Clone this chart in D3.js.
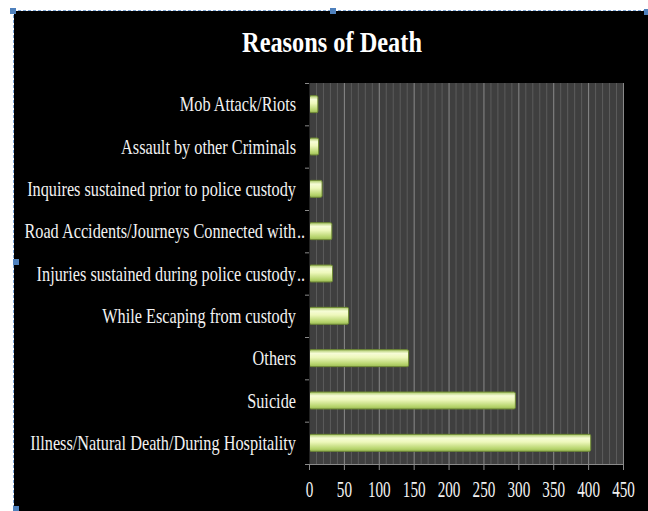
<!DOCTYPE html>
<html>
<head>
<meta charset="utf-8">
<script src="https://cdn.jsdelivr.net/npm/d3@7"></script>
<style>
  html, body { margin: 0; padding: 0; background: #ffffff; }
  svg { display: block; }
</style>
</head>
<body>
<svg id="chart" width="648" height="511"></svg>
<script>
// Causes of death in custody, top to bottom as listed on the chart
const categories = [
  "Mob Attack/Riots",
  "Assault by other Criminals",
  "Inquires sustained prior to police custody",
  "Road Accidents/Journeys Connected with..",
  "Injuries sustained during police custody..",
  "While Escaping from custody",
  "Others",
  "Suicide",
  "Illness/Natural Death/During Hospitality"
];
const values = [12, 13, 18, 32, 33, 56, 142, 295, 403];
const xTicks = [0, 50, 100, 150, 200, 250, 300, 350, 400, 450];
const titleText = "Reasons of Death";

const svg = d3.select("#chart");
const W = 648, H = 511;
const serif = "'Liberation Serif', 'Times New Roman', serif";

// dark panel with selection frame
svg.append("rect").attr("x", 14).attr("y", 11).attr("width", W - 14).attr("height", H - 11).attr("fill", "#000");
svg.append("line").attr("x1", 13).attr("x2", W).attr("y1", 10.5).attr("y2", 10.5)
  .attr("stroke", "#7fa6d6").attr("stroke-width", 1).attr("stroke-dasharray", "3,2");
svg.append("line").attr("x1", 13.5).attr("x2", 13.5).attr("y1", 10).attr("y2", H)
  .attr("stroke", "#7fa6d6").attr("stroke-width", 1).attr("stroke-dasharray", "3,2");
[[10, 8], [330, 8], [644, 9], [13, 259], [13, 506]].forEach(([hx, hy]) => {
  svg.append("rect").attr("x", hx).attr("y", hy).attr("width", 6).attr("height", 6).attr("fill", "#4f81bd");
});

const margin = { left: 309, right: 25, top: 83, bottom: 47 };
const x = d3.scaleLinear().domain([0, 450]).range([margin.left, W - margin.right]);
const y = d3.scaleBand().domain(categories).range([margin.top, H - margin.bottom]).paddingInner(0.6).paddingOuter(0.3);
const yb = d3.scaleBand().domain(categories).range([margin.top, H - margin.bottom]);

// plot area
svg.append("rect").attr("x", x(0)).attr("y", margin.top).attr("width", x(450) - x(0))
  .attr("height", H - margin.bottom - margin.top).attr("fill", "#3f3f3f");

// minor and major vertical gridlines
const minor = d3.range(10, 450, 10).filter(v => v % 50 !== 0);
svg.append("g").selectAll("line").data(minor).join("line")
  .attr("x1", d => x(d) + 0.5).attr("x2", d => x(d) + 0.5)
  .attr("y1", margin.top).attr("y2", H - margin.bottom)
  .attr("stroke", "#5c5c5c").attr("stroke-width", 1);
svg.append("g").selectAll("line").data(xTicks.slice(1)).join("line")
  .attr("x1", d => x(d) + 0.5).attr("x2", d => x(d) + 0.5)
  .attr("y1", margin.top).attr("y2", H - margin.bottom)
  .attr("stroke", "#8a8a8a").attr("stroke-width", 1);

// bar gradient
const defs = svg.append("defs");
const grad = defs.append("linearGradient").attr("id", "barGrad").attr("x1", 0).attr("x2", 0).attr("y1", 0).attr("y2", 1);
grad.append("stop").attr("offset", "0%").attr("stop-color", "#a9c765");
grad.append("stop").attr("offset", "22%").attr("stop-color", "#f6fcd6");
grad.append("stop").attr("offset", "45%").attr("stop-color", "#eef8bc");
grad.append("stop").attr("offset", "85%").attr("stop-color", "#b6d46c");
grad.append("stop").attr("offset", "100%").attr("stop-color", "#9cb957");

svg.append("g").selectAll("rect").data(values).join("rect")
  .attr("x", x(0) + 0.5)
  .attr("y", (d, i) => y(categories[i]))
  .attr("width", d => x(d) - x(0))
  .attr("height", y.bandwidth())
  .attr("rx", 1.5)
  .attr("fill", "url(#barGrad)")
  .attr("stroke", "#6f8a35").attr("stroke-width", 1);

// axes
const axisColor = "#8a8a8a";
const xAxis = svg.append("g").attr("transform", `translate(0,${H - margin.bottom})`)
  .call(d3.axisBottom(x).tickValues(xTicks).tickSize(6).tickSizeOuter(0));
xAxis.select(".domain").attr("stroke", axisColor);
xAxis.selectAll(".tick line").attr("stroke", axisColor);
// narrow, tall tick numerals
xAxis.selectAll(".tick text")
  .attr("fill", "#f2f2f2").attr("font-family", serif).attr("font-size", 23)
  .attr("y", 0).attr("dy", 0)
  .attr("transform", "translate(0,33) scale(0.66,1)");

const yAxis = svg.append("g").attr("transform", `translate(${x(0)},0)`);
yAxis.append("line").attr("x1", 0.5).attr("x2", 0.5).attr("y1", margin.top).attr("y2", H - margin.bottom).attr("stroke", "#222");
const bounds = categories.map(c => yb(c)).concat([H - margin.bottom]);
yAxis.selectAll("line.tk").data(bounds).join("line").attr("class", "tk")
  .attr("x1", -4).attr("x2", 0).attr("y1", d => d + 0.5).attr("y2", d => d + 0.5).attr("stroke", axisColor);

// category labels, horizontally condensed; trailing ".." of truncated names spills past the column edge
const labelX = 296;
const labelG = svg.append("g").attr("fill", "#f2f2f2").attr("font-family", serif).attr("font-size", 20);
const body = d => d.replace(/\.\.$/, "");
const labels = labelG.selectAll("text.lbl").data(categories).join("text").attr("class", "lbl")
  .attr("text-anchor", "end")
  .text(body);
const ref = labels.filter(d => d.startsWith("Illness")).node().getComputedTextLength();
const lsx = 266 / ref;
labels.attr("transform", d => `translate(${labelX},${yb(d) + yb.bandwidth() / 2 + 7}) scale(${lsx},1)`);
labelG.selectAll("text.dots").data(categories.filter(d => d.endsWith(".."))).join("text").attr("class", "dots")
  .attr("text-anchor", "start")
  .attr("transform", d => `translate(${labelX + 1},${yb(d) + yb.bandwidth() / 2 + 7}) scale(${lsx},1)`)
  .text("..");

const title = svg.append("text").attr("text-anchor", "middle")
  .attr("fill", "#ffffff").attr("font-family", serif)
  .attr("font-weight", "bold").attr("font-size", 30).text(titleText);
const tsx = 180 / title.node().getComputedTextLength();
title.attr("transform", `translate(332,52) scale(${tsx},1)`);
</script>
</body>
</html>
